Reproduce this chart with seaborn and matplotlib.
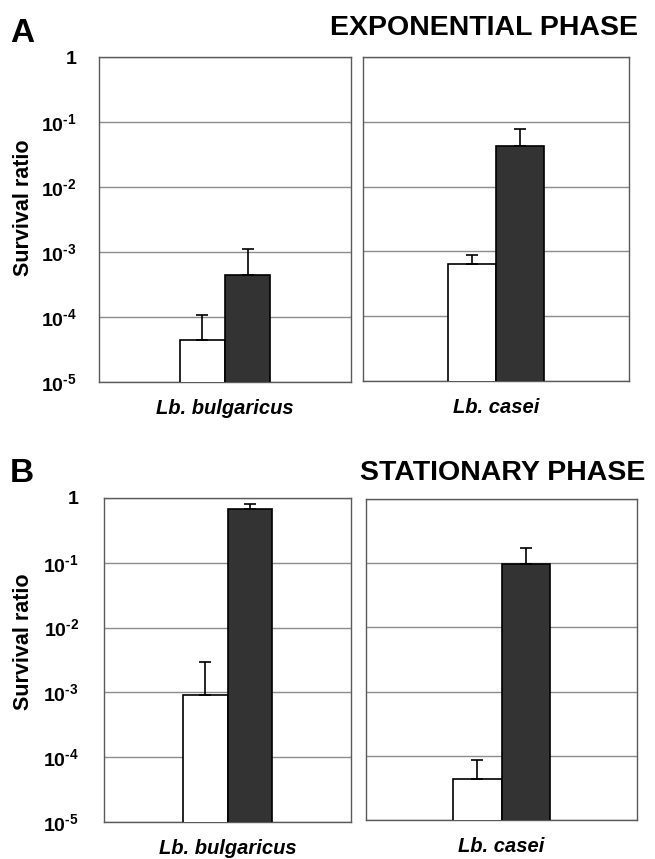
import matplotlib
matplotlib.use("Agg")
import matplotlib.pyplot as plt
import seaborn as sns
import pandas as pd
import numpy as np
from matplotlib.ticker import FixedLocator, FixedFormatter, NullLocator

sns.set_style("white")
plt.rcParams['font.family'] = ['Liberation Sans', 'DejaVu Sans']
plt.rcParams['mathtext.fontset'] = 'custom'
plt.rcParams['mathtext.rm'] = 'Liberation Sans:bold'
plt.rcParams['mathtext.bf'] = 'Liberation Sans:bold'
plt.rcParams['mathtext.it'] = 'Liberation Sans:bold:italic'
for k in ['text.color', 'axes.labelcolor', 'xtick.color', 'ytick.color']:
    plt.rcParams[k] = 'black'

# ---- data ----
species = ["Lb. bulgaricus", "Lb. casei"]
conditions = ["Control", "Treated"]

exp_white = [4.4e-5, 6.3e-4]
exp_white_top = [1.07e-4, 8.9e-4]
exp_dark = [4.4e-4, 0.042]
exp_dark_top = [1.1e-3, 0.078]

stat_white = [9.2e-4, 4.3e-5]
stat_white_top = [2.9e-3, 8.7e-5]
stat_dark = [0.68, 0.098]
stat_dark_top = [0.82, 0.17]

ytick_values = [1e-5, 1e-4, 1e-3, 1e-2, 1e-1, 1]
ytick_labels = [r"$10^{\text{-}5}$", r"$10^{\text{-}4}$", r"$10^{\text{-}3}$",
                r"$10^{\text{-}2}$", r"$10^{\text{-}1}$", "1"]

panels = {
    "A": (exp_white, exp_white_top, exp_dark, exp_dark_top),
    "B": (stat_white, stat_white_top, stat_dark, stat_dark_top),
}

W, H = 655, 859
fig = plt.figure(figsize=(W / 100, H / 100), dpi=100)

def px_axes(x0, y0, x1, y1):
    return fig.add_axes([x0 / W, 1 - y1 / H, (x1 - x0) / W, (y1 - y0) / H])

boxes = {
    ("A", 0): (99, 57, 351, 382),
    ("A", 1): (363, 57, 629, 381),
    ("B", 0): (104, 498, 351, 822),
    ("B", 1): (366, 499, 637, 820),
}
ypads = {"A": 16, "B": 18}
ylabel_coords = {"A": (-0.258, 0.535), "B": (-0.283, 0.556)}

grid_c = "#8c8c8c"
spine_c = "#5a5a5a"

for pname, (w, wt, d, dt) in panels.items():
    for i, sp in enumerate(species):
        ax = px_axes(*boxes[(pname, i)])
        df = pd.DataFrame({
            "species": [sp, sp],
            "condition": conditions,
            "ratio": [w[i], d[i]],
        })
        sns.barplot(data=df, x="species", y="ratio", hue="condition",
                    palette=["white", "#333333"], edgecolor="black",
                    linewidth=1.2, width=0.36, errorbar=None, legend=False,
                    ax=ax, zorder=3)
        ax.set_yscale("log")
        tops = [wt[i], dt[i]]
        vals = [w[i], d[i]]
        for patch, v, t in zip(ax.patches, vals, tops):
            cx = patch.get_x() + patch.get_width() / 2
            ax.errorbar([cx], [v], yerr=[[0], [t - v]], fmt="none",
                        ecolor="black", elinewidth=1.2, capsize=4,
                        capthick=1.2, zorder=4)
        ax.set_xlim(-0.5, 0.5)
        ax.set_ylim(1e-5, 1)
        ax.yaxis.set_major_locator(FixedLocator(ytick_values))
        ax.yaxis.set_minor_locator(NullLocator())
        ax.grid(axis="y", color=grid_c, linewidth=1.0, zorder=0)
        ax.set_axisbelow(True)
        for s in ax.spines.values():
            s.set_color(spine_c)
            s.set_linewidth(1.0)
        if i == 0:
            ax.yaxis.set_major_formatter(FixedFormatter(ytick_labels))
            ax.tick_params(axis="y", length=0, pad=ypads[pname],
                           labelsize=14)
            for lab in ax.get_yticklabels():
                lab.set_fontweight("bold")
            ax.set_ylabel("Survival ratio", fontsize=15.5, fontweight="bold")
            ax.yaxis.set_label_coords(*ylabel_coords[pname])
        else:
            ax.set_yticklabels([])
            ax.tick_params(axis="y", length=0)
            ax.set_ylabel("")
        ax.set_xlabel("")
        ax.xaxis.set_minor_locator(FixedLocator([-0.5, 0.5]))
        ax.tick_params(axis="x", which="major", length=0, pad=12,
                       labelsize=14.5)
        ax.tick_params(axis="x", which="minor", length=5, width=1.0,
                       color=spine_c, direction="out")
        for lab in ax.get_xticklabels():
            lab.set_fontweight("bold")
            lab.set_fontstyle("italic")

fig.text(10 / W, 1 - 42 / H, "A", fontsize=24, fontweight="bold",
         ha="left", va="baseline")
fig.text(638 / W, 1 - 35 / H, "EXPONENTIAL PHASE", fontsize=20.5,
         fontweight="bold", ha="right", va="baseline")
fig.text(10 / W, 1 - 482 / H, "B", fontsize=24, fontweight="bold",
         ha="left", va="baseline")
fig.text(645 / W, 1 - 480 / H, "STATIONARY PHASE", fontsize=20.5,
         fontweight="bold", ha="right", va="baseline")

fig.savefig("out.png", dpi=100)
